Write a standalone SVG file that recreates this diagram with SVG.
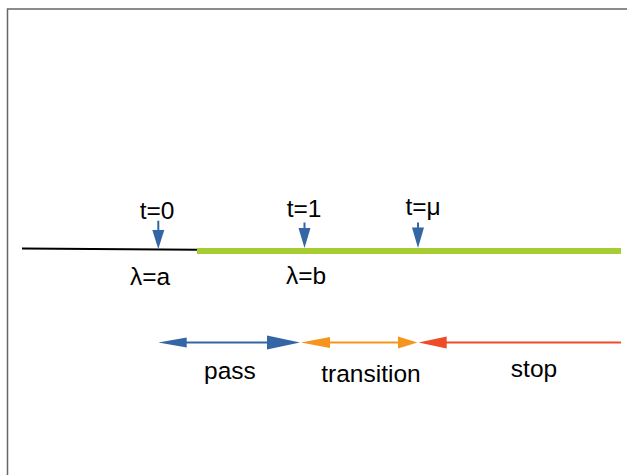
<svg xmlns="http://www.w3.org/2000/svg" width="627" height="475" viewBox="0 0 627 475">
<style>
text{font-family:"Liberation Sans",Arial,sans-serif;font-size:24.5px;fill:#000;text-anchor:middle}
.blue{fill:#3465a4}
</style>
<rect width="627" height="475" fill="#fff"/>
<g id="frame" fill="none" stroke="#666" stroke-width="1.5">
<path d="M7.5,475 V9 H627"/>
</g>
<g id="axis">
<path d="M22,248.5 L198,249.8" stroke="#000" stroke-width="2" fill="none"/>
<rect x="197" y="248" width="424" height="6" fill="#a7cd35"/>
</g>
<g id="markers">
<g id="t0"><path d="M158.3,220.7 V231" stroke="#3465a4" stroke-width="2"/><path class="blue" d="M152.3,230 H164.3 L158.3,249 Z"/><text x="157" y="218.5">t=0</text></g>
<g id="t1"><path d="M304.5,222.5 V229" stroke="#3465a4" stroke-width="2"/><path class="blue" d="M298.5,228 H310.5 L304.5,248 Z"/><text x="304" y="217">t=1</text></g>
<g id="tmu"><path d="M418,222.5 V229" stroke="#3465a4" stroke-width="2"/><path class="blue" d="M412,227.5 H424 L418,248 Z"/><text x="423" y="214.5">t=μ</text></g>
<text id="la" x="150" y="285">λ=a</text>
<text id="lb" x="306" y="284">λ=b</text>
</g>
<g id="connectors">
<g id="pass-arrow"><path d="M185,342.5 H270" stroke="#3465a4" stroke-width="2"/><path fill="#3465a4" d="M158.3,342.5 L186.7,337.5 V347.5 Z"/><path fill="#3465a4" d="M300,342.5 L267,335.5 V349.5 Z"/></g>
<g id="transition-arrow"><path d="M328,342.5 H400" stroke="#f7941d" stroke-width="2"/><path fill="#f7941d" d="M301,342.5 L330,337 V348 Z"/><path fill="#f7941d" d="M417.5,342.5 L398,336.5 V348.5 Z"/></g>
<g id="stop-arrow"><path d="M440,342.5 H621" stroke="#ed4c27" stroke-width="2"/><path fill="#ed4c27" d="M418.5,342.5 L446.7,336.5 V348.5 Z"/></g>
</g>
<g id="labels">
<text x="230" y="379">pass</text>
<text x="371" y="381.5">transition</text>
<text x="534" y="377">stop</text>
</g>
</svg>
